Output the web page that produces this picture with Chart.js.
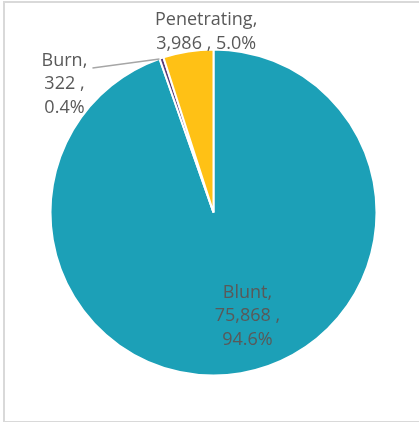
<!DOCTYPE html>
<html>
<head>
<meta charset="utf-8">
<script src="https://cdn.jsdelivr.net/npm/chart.js@4.4.0/dist/chart.umd.min.js"></script>
<style>
    body { margin: 0; background: #fff; }
    #marco {
        position: absolute; left: 3px; top: 1px; width: 430px; height: 418px;
        border: 2px solid #d9d9d9; border-right: none;
    }
    #contenedor { position: absolute; left: 0; top: 0; width: 419px; height: 422px; }
</style>
</head>
<body>
<div id="marco"></div>
<div id="contenedor"><canvas id="grafico"></canvas></div>
<script>
// Datos del gráfico
const categorias = ['Blunt', 'Burn', 'Penetrating'];
const valores = [75868, 322, 3986];
const porcentajes = ['94.6%', '0.4%', '5.0%'];
const colores = ['#1ca0b7', '#5a3a78', '#ffc115'];

const fuente = '18px "Open Sans"';
const colorTexto = '#595959';

// Plugin para dibujar las etiquetas estilo Excel
const etiquetas = {
    id: 'etiquetas',
    afterDatasetsDraw(chart) {
        const ctx = chart.ctx;
        const arcos = chart.getDatasetMeta(0).data;
        ctx.save();
        ctx.font = fuente;
        ctx.fillStyle = colorTexto;
        ctx.textAlign = 'center';
        ctx.textBaseline = 'middle';

        const fmt = v => v.toLocaleString('en-US');

        arcos.forEach((arco, i) => {
            const { x, y, startAngle, endAngle, outerRadius } = arco.getProps(['x', 'y', 'startAngle', 'endAngle', 'outerRadius'], true);
            const medio = (startAngle + endAngle) / 2;
            let lineas, px, py;
            if (i === 0) {
                // dentro de la porción
                px = x + Math.cos(medio) * outerRadius * 0.62 + 17;
                py = y + Math.sin(medio) * outerRadius * 0.62 + 4;
                lineas = [categorias[i] + ',', fmt(valores[i]) + ' ,', porcentajes[i]];
                lineas.forEach((t, k) => ctx.fillText(t, px, py + (k - 1) * 23.5));
            } else if (i === 1) {
                // fuera, con línea guía
                const ex = x + Math.cos(medio) * outerRadius;
                const ey = y + Math.sin(medio) * outerRadius;
                ctx.strokeStyle = '#a6a6a6';
                ctx.lineWidth = 1.5;
                ctx.beginPath();
                ctx.moveTo(ex - 2, ey + 1);
                ctx.lineTo(ex - 69, ey + 10);
                ctx.stroke();
                px = ex - 97;
                py = ey + 26;
                lineas = [categorias[i] + ',', fmt(valores[i]) + ' ,', porcentajes[i]];
                lineas.forEach((t, k) => ctx.fillText(t, px, py + (k - 1) * 23.5));
            } else {
                // fuera, arriba
                px = x + Math.cos(medio) * outerRadius + 18;
                py = y + Math.sin(medio) * outerRadius - 20;
                lineas = [categorias[i] + ',', fmt(valores[i]) + ' , ' + porcentajes[i]];
                lineas.forEach((t, k) => ctx.fillText(t, px, py + (k - 0.5) * 24));
            }
        });
        ctx.restore();
    }
};

const ctx = document.getElementById('grafico').getContext('2d');
new Chart(ctx, {
    type: 'pie',
    data: {
        labels: categorias,
        datasets: [{
            data: valores,
            backgroundColor: colores,
            borderColor: '#ffffff',
            borderWidth: 2,
            radius: 163
        }]
    },
    options: {
        responsive: true,
        maintainAspectRatio: false,
        animation: false,
        layout: { padding: { left: 8, right: 0, top: 3, bottom: 0 } },
        plugins: {
            legend: { display: false },
            tooltip: { enabled: false }
        }
    },
    plugins: [etiquetas]
});
</script>
</body>
</html>
